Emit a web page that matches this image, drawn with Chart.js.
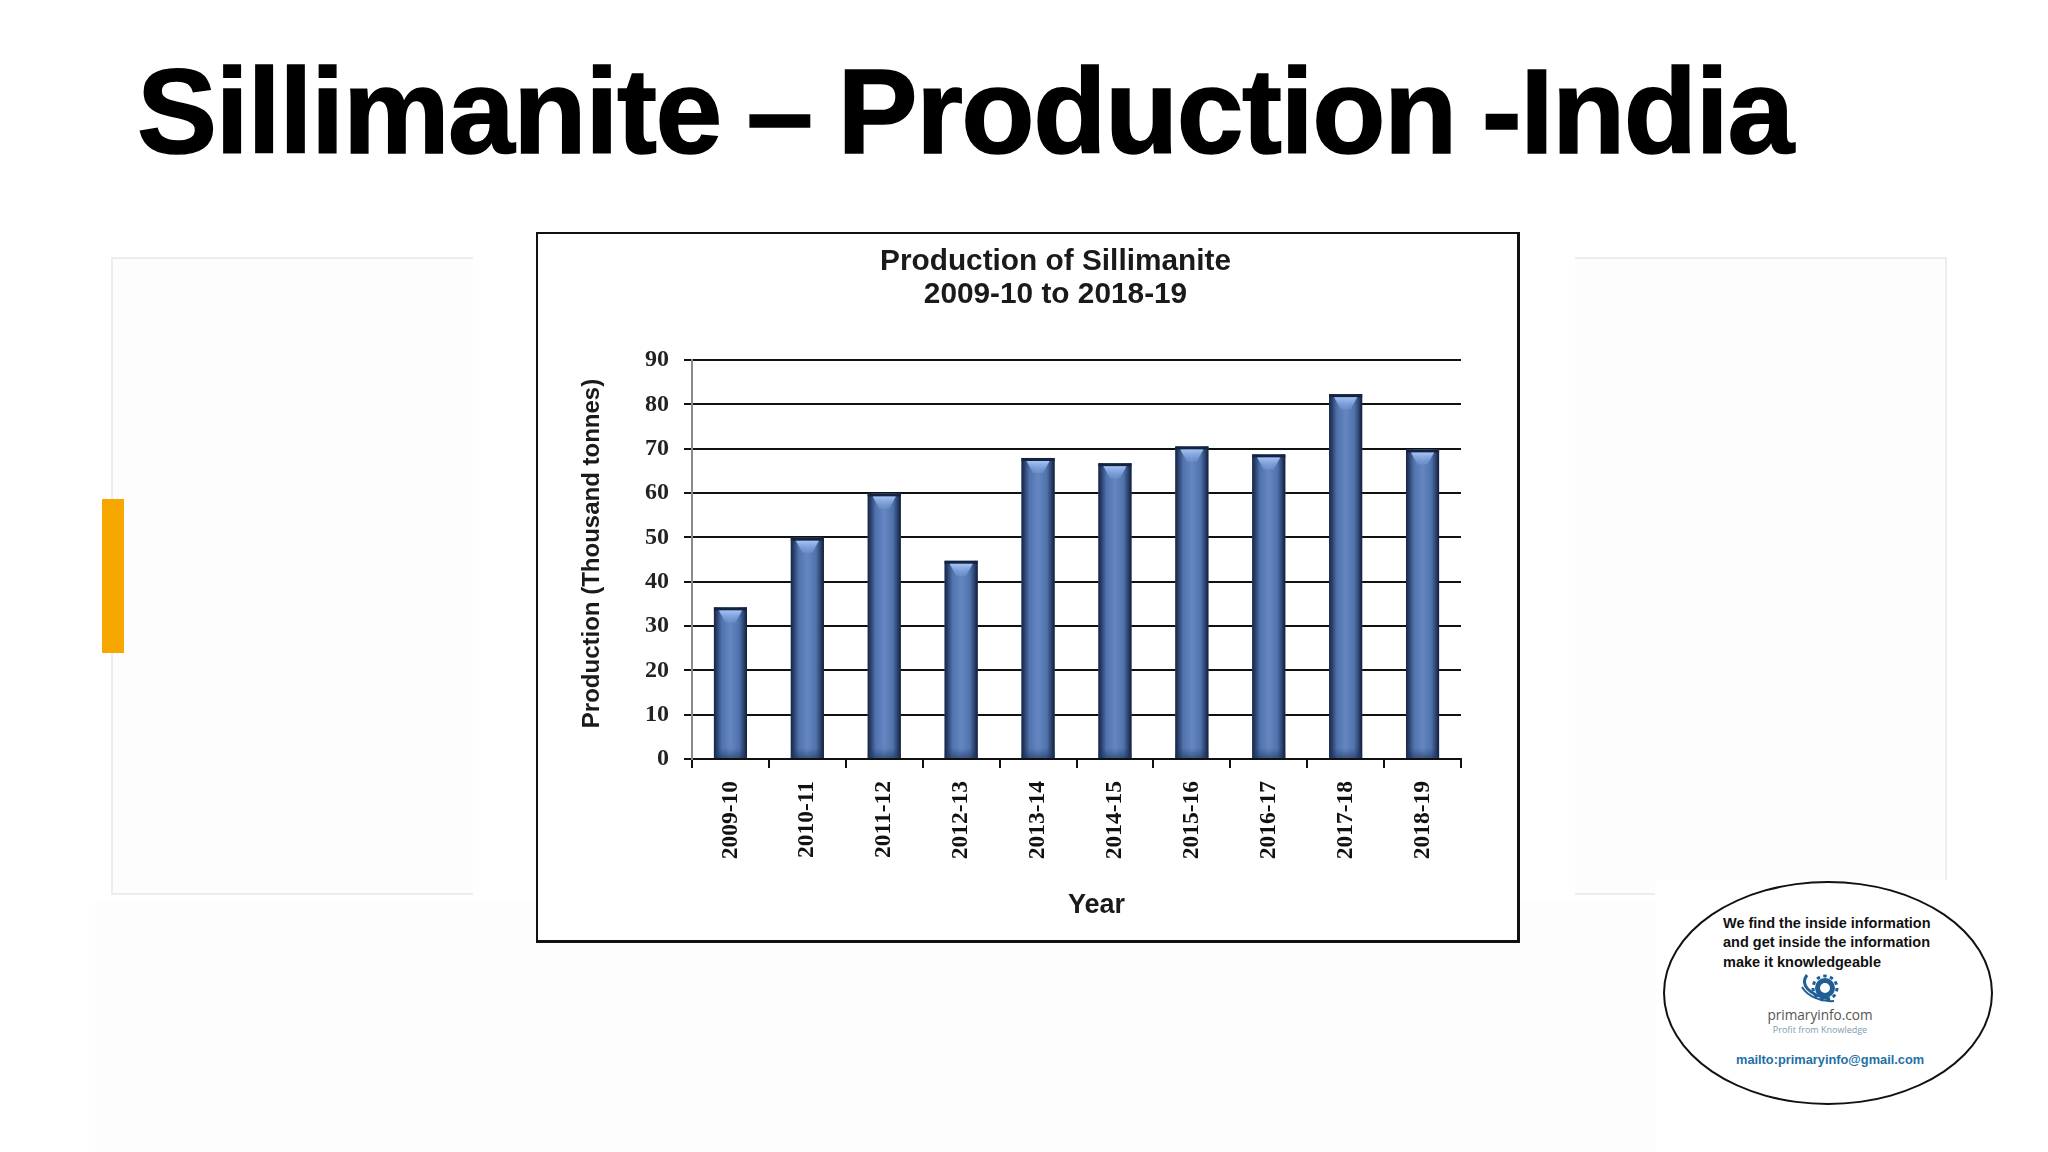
<!DOCTYPE html>
<html>
<head>
<meta charset="utf-8">
<script src="https://cdn.jsdelivr.net/npm/chart.js@4"></script>
<style>
html,body{margin:0;padding:0;background:#fff;width:2048px;height:1152px;overflow:hidden;font-family:"Liberation Sans",Arial,sans-serif}
.abs{position:absolute}
#pageTitle{left:137px;top:41px;font-size:120px;font-weight:700;letter-spacing:-1.5px;word-spacing:-6px;line-height:140px;color:#000;white-space:nowrap;-webkit-text-stroke:1.5px #000}
#wash{left:95px;top:900px;width:1900px;height:252px;background:#fdfdfd}
.panel{border:2px solid #ededed;box-sizing:border-box;background:#fdfdfd}
#panelL{left:111px;top:257px;width:362px;height:638px;border-right:none}
#panelR{left:1575px;top:257px;width:372px;height:638px;border-left:none}
#mask{left:1655px;top:880px;width:350px;height:272px;background:#fff}
#accent{left:102px;top:499px;width:22px;height:154px;background:#f7a800}
#frame{left:536px;top:232px;width:984px;height:711px;box-sizing:border-box;background:#fff;border:2px solid #111;border-right-width:3px;border-bottom-width:3px}
#chartCanvas{position:absolute;left:536px;top:232px}
#badge{left:1663px;top:881px;width:330px;height:224px;box-sizing:border-box;border:2px solid #111;border-radius:50%;background:#fff}
.t{position:absolute;white-space:nowrap}
</style>
</head>
<body>
<div class="abs" id="wash"></div>
<div class="abs panel" id="panelL"></div>
<div class="abs panel" id="panelR"></div>
<div class="abs" id="mask"></div>
<div class="abs" id="accent"></div>
<div class="abs" id="pageTitle">Sillimanite – Production -India</div>
<div class="abs" id="frame"></div>
<canvas id="chartCanvas" width="1038" height="711"></canvas>
<div class="abs" id="badge"></div>
<div class="t" style="left:1723px;top:914px;font:700 14.5px/19.4px 'Liberation Sans';color:#111">We find the inside information<br>and get inside the information<br>make it knowledgeable</div>
<svg class="abs" style="left:1798px;top:973px" width="50" height="34" viewBox="0 0 50 34">
  <g fill="none" stroke="#1f5f95">
    <circle cx="27" cy="15" r="7.5" stroke-width="5"/>
    <circle cx="27" cy="15" r="12" stroke-width="3" stroke-dasharray="3.5 3.3"/>
    <path d="M9 2 C2 11 10 22 32 26" stroke-width="3"/>
    <path d="M4 14 C10 24 24 29 36 28" stroke-width="2"/>
  </g>
</svg>
<div class="t" style="left:1720px;width:200px;text-align:center;top:1005px;font:400 13.6px/20px 'Open Sans';color:#555">primaryinfo.com</div>
<div class="t" style="left:1720px;width:200px;text-align:center;top:1023px;font:400 9px/14px 'Open Sans';color:#7d9db0">Profit from Knowledge</div>
<div class="t" style="left:1736px;top:1051px;font:700 12.8px/17px 'Liberation Sans';color:#1f6fa8">mailto:primaryinfo@gmail.com</div>

<script>
const categories = ['2009-10','2010-11','2011-12','2012-13','2013-14','2014-15','2015-16','2016-17','2017-18','2018-19'];
const productionValues = [34.2,49.9,59.9,44.7,67.9,66.7,70.5,68.7,82.3,69.8];
const chartTitleLines = ['Production of Sillimanite','2009-10 to 2018-19'];
const yAxisTitle = 'Production (Thousand tonnes)';
const xAxisTitle = 'Year';

const barShading = {
  id:'barShading',
  afterDatasetsDraw(chart){
    const ctx = chart.ctx;
    chart.getDatasetMeta(0).data.forEach(bar=>{
      const w = bar.width, l = bar.x-w/2, r = bar.x+w/2, top = bar.y, base = bar.base;
      ctx.save();
      const g = ctx.createLinearGradient(l,0,r,0);
      g.addColorStop(0,'#16233f');
      g.addColorStop(0.1,'#2c4370');
      g.addColorStop(0.24,'#5073ad');
      g.addColorStop(0.5,'#6487c2');
      g.addColorStop(0.76,'#5073ad');
      g.addColorStop(0.9,'#2c4370');
      g.addColorStop(1,'#121c33');
      ctx.fillStyle = g;
      ctx.fillRect(l,top,w,base-top);
      ctx.fillStyle = '#16233f';
      ctx.fillRect(l,top,w,3);
      const cap = ctx.createLinearGradient(0,top+3,0,top+15);
      cap.addColorStop(0,'#a6c4f5');
      cap.addColorStop(1,'rgba(120,155,215,0.45)');
      ctx.fillStyle = cap;
      ctx.beginPath();
      ctx.moveTo(l+5,top+3);ctx.lineTo(r-5,top+3);ctx.lineTo(bar.x+5,top+15);ctx.lineTo(bar.x-5,top+15);
      ctx.closePath();ctx.fill();
      const foot = ctx.createLinearGradient(0,base-10,0,base);
      foot.addColorStop(0,'rgba(30,50,90,0)');
      foot.addColorStop(1,'rgba(30,50,90,0.55)');
      ctx.fillStyle = foot;
      ctx.fillRect(l,base-10,w,10);
      ctx.restore();
    });
  }
};

const axisTitles = {
  id:'axisTitles',
  afterLayout(chart){
    // the reference's chart title sits right of the plot-box centre
    chart.titleBlock.left += 57;
    chart.titleBlock.right += 57;
  },
  afterDraw(chart){
    const ctx = chart.ctx, a = chart.chartArea;
    ctx.save();
    ctx.fillStyle = '#1a1a1a';
    ctx.textAlign = 'center';
    ctx.textBaseline = 'middle';
    ctx.font = '700 27px "Liberation Sans"';
    ctx.fillText(xAxisTitle,(a.left+a.right)/2+20,a.bottom+147);
    ctx.font = '700 24px "Liberation Sans"';
    ctx.translate(a.left-100,(a.top+a.bottom)/2-6);
    ctx.rotate(-Math.PI/2);
    ctx.fillText(yAxisTitle,0,0);
    ctx.restore();
  }
};

new Chart(document.getElementById('chartCanvas'),{
  type:'bar',
  data:{labels:categories,datasets:[{data:productionValues,backgroundColor:'#5073ad',barPercentage:0.43,categoryPercentage:1}]},
  plugins:[barShading,axisTitles],
  options:{
    responsive:false,animation:false,devicePixelRatio:1,
    layout:{padding:{left:0,right:113,top:0,bottom:0}},
    plugins:{
      legend:{display:false},tooltip:{enabled:false},
      title:{display:true,text:chartTitleLines,color:'#1a1a1a',
        font:{family:'"Liberation Sans"',size:29.8,weight:'700',lineHeight:33/29.8},
        padding:{top:13,bottom:49}}
    },
    scales:{
      x:{
        afterFit(s){s.height=184},
        grid:{display:true,drawOnChartArea:false,drawTicks:true,tickLength:9,tickColor:'#111',lineWidth:2,offset:true},
        border:{display:true,color:'#111',width:2},
        ticks:{color:'#111',font:{family:'"Liberation Serif"',size:23.5,weight:'700'},maxRotation:90,minRotation:90,padding:13,autoSkip:false}
      },
      y:{
        min:0,max:90,
        afterFit(s){s.width=156},
        grid:{color:'#111',lineWidth:2,tickLength:8,tickColor:'#111'},
        border:{display:true,color:'#8a8a8a',width:2},
        ticks:{stepSize:10,color:'#222',font:{family:'"Liberation Serif"',size:24,weight:'700'},padding:15}
      }
    }
  }
});
</script>
</body>
</html>
